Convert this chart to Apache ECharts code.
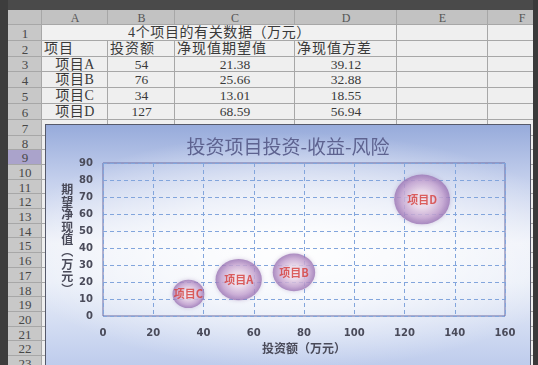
<!DOCTYPE html>
<html><head><meta charset="utf-8">
<script src="https://cdn.jsdelivr.net/npm/echarts@6/dist/echarts.min.js"></script>
<style>
html,body{margin:0;padding:0;width:538px;height:365px;overflow:hidden;background:#4a4a4a;}
#sheet{position:absolute;left:0;top:0;width:538px;height:365px;}
.c{position:absolute;box-sizing:border-box;border-right:1px solid #a7a7a7;border-bottom:1px solid #a7a7a7;background:#eeeeee;}
.t{position:absolute;white-space:nowrap;font-family:"Liberation Serif","Noto Sans CJK SC",serif;color:#3a3a3a;}
#leftdark{position:absolute;left:0;top:0;width:8px;height:365px;background:#3d3d3d;}
#rightdark{position:absolute;left:533px;top:0;width:5px;height:365px;background:#3a3a3a;}
#chart{position:absolute;left:45px;top:124px;width:484px;height:262px;border:1px solid #55596a;
 background:
  radial-gradient(ellipse 60% 45% at 52% 48%, rgba(255,255,255,0.95) 0%, rgba(255,255,255,0.6) 50%, rgba(255,255,255,0) 100%),
  linear-gradient(to bottom, #97abdb 0%, #c6d1ed 22%, #eef1f9 45%, #e9eef8 60%, #c7d3ef 85%, #b3c3e8 100%);}
</style></head>
<body>
<div id="sheet"></div>
<div id="leftdark"></div>
<div id="rightdark"></div>
<div id="chart"></div>
<script>
// ---- data ----
const colLetters = ['A','B','C','D','E','F'];
const sheetTitle = '4个项目的有关数据（万元）';
const headers = ['项目','投资额','净现值期望值','净现值方差'];
const projects = ['项目A','项目B','项目C','项目D'];
const investment = [54, 76, 34, 127];
const expectedNPV = [21.38, 25.66, 13.01, 68.59];
const npvVariance = [39.12, 32.88, 18.55, 56.94];
const chartTitle = '投资项目投资-收益-风险';
const xAxisName = '投资额（万元）';
const yAxisName = '期望净现值︵万元︶';

// ---- spreadsheet layout ----
const sheet = document.getElementById('sheet');
const colX = [8, 42, 108, 175, 295, 397, 488, 556];
const rawTops = [10, 25];
for (let r = 1; r <= 24; r++) rawTops.push(rawTops[rawTops.length-1] + (r <= 7 ? 15.8 : 14.7));
const rowTops = rawTops.map(v => Math.round(v));
function box(x, y, w, h, bg) {
  const d = document.createElement('div'); d.className = 'c';
  d.style.left = x + 'px'; d.style.top = y + 'px'; d.style.width = w + 'px'; d.style.height = h + 'px';
  if (bg) d.style.background = bg;
  sheet.appendChild(d); return d;
}
function text(str, x, y, align, size, color, extra) {
  const d = document.createElement('div'); d.className = 't';
  d.textContent = str; d.style.fontSize = size + 'px'; d.style.lineHeight = size + 'px';
  d.style.top = (y - size/2) + 'px';
  if (align === 'center') { d.style.left = x + 'px'; d.style.transform = 'translateX(-50%)'; }
  else d.style.left = x + 'px';
  if (color) d.style.color = color;
  if (extra) Object.assign(d.style, extra);
  sheet.appendChild(d); return d;
}
// corner + column headers
box(colX[0], rowTops[0], colX[1]-colX[0], rowTops[1]-rowTops[0], '#c2c2c2');
for (let c = 0; c < colLetters.length; c++) {
  box(colX[c+1], rowTops[0], colX[c+2]-colX[c+1], rowTops[1]-rowTops[0], '#c2c2c2');
  text(colLetters[c], (colX[c+1]+colX[c+2])/2, (rowTops[0]+rowTops[1])/2, 'center', 12, '#555');
}
// rows
for (let r = 1; r <= 23; r++) {
  const y0 = rowTops[r], y1 = rowTops[r+1];
  box(colX[0], y0, colX[1]-colX[0], y1-y0, r === 9 ? '#aaa3cb' : '#c8c8c8');
  text(String(r), (colX[0]+colX[1])/2, (y0+y1)/2, 'center', 13, '#474747');
  if (r === 1) {
    box(colX[1], y0, colX[5]-colX[1], y1-y0, '#f1f1f1');
    for (let c = 5; c < 7; c++) box(colX[c], y0, colX[c+1]-colX[c], y1-y0, '#efefef');
  } else {
    for (let c = 1; c < 7; c++) box(colX[c], y0, colX[c+1]-colX[c], y1-y0, '#efefef');
  }
}
const rc = r => (rowTops[r] + rowTops[r+1]) / 2;
text(sheetTitle, (colX[1]+colX[5])/2, rc(1), 'center', 14, '#3a3a3a', {letterSpacing:'0.6px'});
headers.forEach((h, i) => text(h, colX[i+1] + 2, rc(2), 'left', 14, '#3a3a3a', {letterSpacing:'1px'}));
projects.forEach((p, i) => {
  const r = 3 + i;
  text(p, (colX[1]+colX[2])/2, rc(r), 'center', 14, '#3a3a3a', {letterSpacing:'0.5px'});
  text(String(investment[i]), (colX[2]+colX[3])/2, rc(r), 'center', 13.5, '#3a3a3a');
  text(String(expectedNPV[i]), (colX[3]+colX[4])/2, rc(r), 'center', 13.5, '#3a3a3a');
  text(String(npvVariance[i]), (colX[4]+colX[5])/2, rc(r), 'center', 13.5, '#3a3a3a');
});

// ---- chart ----
const chart = echarts.init(document.getElementById('chart'), null, {renderer: 'canvas'});
const axisText = {color: '#4a4b5a', fontFamily: 'DejaVu Sans', fontSize: 10, fontWeight: 'bold'};
const nameText = {color: '#4a4b5a', fontFamily: 'Noto Sans CJK SC', fontSize: 12, fontWeight: 'bold', align: 'center', verticalAlign: 'middle'};
const split = {show: true, lineStyle: {type: [4, 3], color: '#82a5dc', width: 1}};
chart.setOption({
  backgroundColor: 'transparent',
  animation: false,
  title: {text: chartTitle, left: 'center', top: 7,
    textStyle: {fontFamily: 'Noto Sans CJK SC', fontSize: 19, fontWeight: 'normal', color: '#5e6390'}},
  grid: {left: 57, top: 38, width: 402, height: 153, show: true, borderColor: '#6b6ba3', borderWidth: 1, backgroundColor: 'transparent'},
  xAxis: {type: 'value', min: 0, max: 160, interval: 20,
    name: xAxisName, nameLocation: 'middle', nameGap: 31, nameTextStyle: nameText,
    axisLine: {show: false}, axisTick: {show: false}, axisLabel: Object.assign({margin: 12}, axisText), splitLine: split},
  yAxis: {type: 'value', min: 0, max: 90, interval: 10,
    name: yAxisName.split('').join('\n'), nameLocation: 'middle', nameGap: 33, nameRotate: 0,
    nameTextStyle: Object.assign({lineHeight: 12.4}, nameText),
    axisLine: {show: false}, axisTick: {show: false}, axisLabel: Object.assign({margin: 10}, axisText), splitLine: split},
  series: [{
    type: 'scatter',
    data: projects.map((p, i) => ({name: p, value: [investment[i], expectedNPV[i], npvVariance[i]]})),
    symbolSize: d => [7.4 * Math.sqrt(d[2]), 6.6 * Math.sqrt(d[2])],
    itemStyle: {
      color: {type: 'radial', x: 0.5, y: 0.5, r: 0.5, colorStops: [
        {offset: 0, color: '#fbf2f7'}, {offset: 0.35, color: '#efdeec'},
        {offset: 0.75, color: '#c7a6d2'}, {offset: 1, color: '#9a74b4'}]},
      shadowBlur: 4, shadowColor: 'rgba(120,80,150,0.35)'
    },
    label: {show: true, position: 'inside', formatter: p => p.name, color: '#d63c38',
      fontFamily: 'Noto Sans CJK SC', fontSize: 11, fontWeight: 'bold'}
  }]
});
</script>
</body></html>
